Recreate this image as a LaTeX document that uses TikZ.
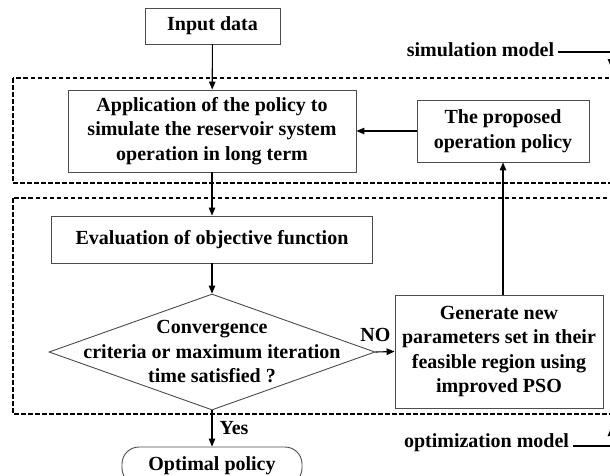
\documentclass[tikz,border=0pt]{standalone}
\usepackage{fontspec}
\setmainfont{Liberation Serif}
\usetikzlibrary{shapes.geometric,arrows.meta}
\begin{document}
\begin{tikzpicture}[x=1pt,y=-1pt,
  every node/.style={font=\bfseries\fontsize{20}{24.5}\selectfont, inner sep=0pt},
  box/.style={draw=black!70, line width=0.9pt, rectangle, align=center},
  arr/.style={line width=1.1pt, -{Triangle[length=8pt,width=6.5pt]}},
  zone/.style={line width=2pt, dash pattern=on 4.5pt off 2.5pt},
  lab/.style={inner sep=4pt}]
\clip (0,0) rectangle (610,475);
\fill[white] (0,0) rectangle (610,475);
% zones
\draw[zone] (13,78) rectangle (640,183);
\draw[zone] (13,198) rectangle (640,414);
% nodes
\node[box, minimum width=135pt, minimum height=36pt] (inp) at (212.5,26) {Input data};
\node[box, minimum width=288pt, minimum height=82pt] (app) at (212,131) {Application of the policy to\\simulate the reservoir system\\operation in long term};
\node[box, minimum width=172pt, minimum height=62pt] (prop) at (503,131) {The proposed\\operation policy};
\node[box, minimum width=321pt, minimum height=47pt] (eval) at (212,239.5) {Evaluation of objective function};
\node[diamond, draw=black!70, line width=0.9pt, minimum width=326pt, minimum height=116pt] (dia) at (212,352) {};
\node[align=center] (diat) at (212,352) {Convergence\\criteria or maximum iteration\\time satisfied ?};
\node[box, minimum width=208pt, minimum height=113pt] (gen) at (499,351.5) {Generate new\\parameters set in their\\feasible region using\\improved PSO};
\node[box, rounded corners=17pt, minimum width=180pt, minimum height=38pt] (optp) at (212,466) {Optimal policy};
% side labels
\node[lab] (sim) at (480.5,50) {simulation model};
\node[lab] (opt) at (486.5,443) {optimization model};
\coordinate (simc) at (611,52);
\coordinate (simt) at (611,67);
\coordinate (optc) at (611,446);
\coordinate (optt) at (611,428);
% connectors
\draw[arr] (inp) -- (app);
\draw[arr] (prop) -- (app);
\draw[arr] (app) -- (eval);
\draw[arr] (eval) -- (dia);
\draw[arr] (dia.east) -- node[pos=0, above=10pt] {NO} (gen.west);
\draw[arr] (gen.north -| prop.south) -- (prop.south);
\draw[arr] (dia.south) -- node[right=7pt] {Yes} (optp.north);
\draw[arr] (sim.east |- simc) -- (simc) -- (simt);
\draw[arr] (opt.east |- optc) -- (optc) -- (optt);
\end{tikzpicture}
\end{document}
